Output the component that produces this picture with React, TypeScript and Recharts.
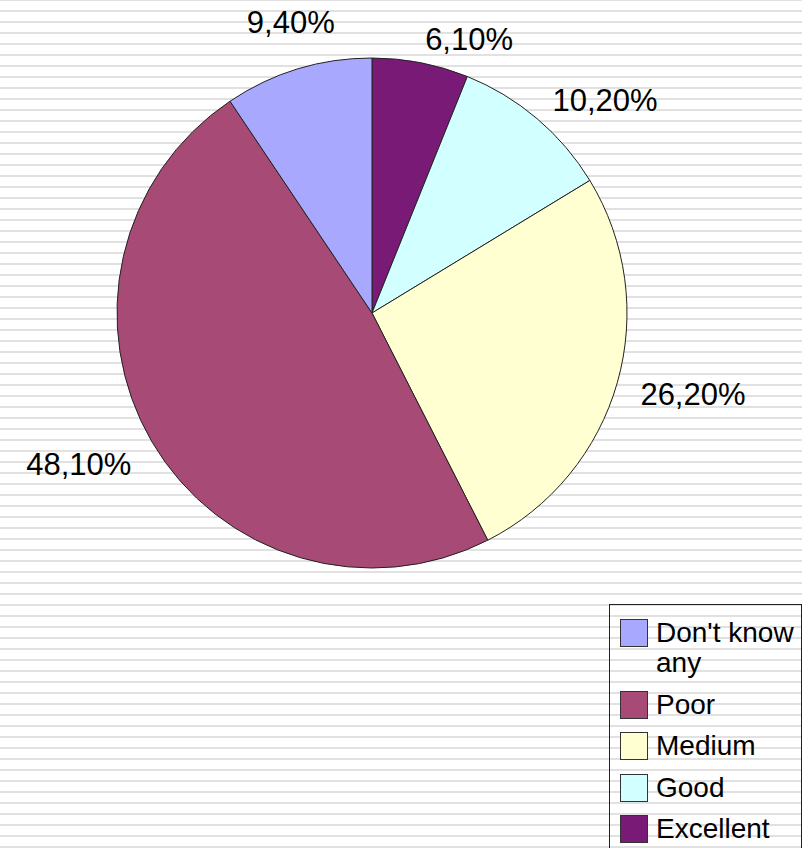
import { PieChart, Pie, Cell, Legend } from 'recharts'

// slices in drawing order, clockwise from 12 o'clock
const categories = ['Excellent', 'Good', 'Medium', 'Poor', "Don't know any"]
const shares = [6.1, 10.2, 26.2, 48.1, 9.4]
const colors = ['#7a1a77', '#d2ffff', '#ffffd2', '#a84a76', '#a8a8ff']

const data = categories.map((name, i) => ({ name, value: shares[i] }))

const FONT = '"Liberation Sans", Arial, sans-serif'
const RAD = Math.PI / 180

function fmt(v: number) {
  return v.toFixed(2).replace('.', ',') + '%'
}

function renderLabel(props: any) {
  const { cx, cy, midAngle, outerRadius, value } = props
  const cos = Math.cos(-midAngle * RAD)
  const sin = Math.sin(-midAngle * RAD)
  const r = outerRadius + 24
  const x = cx + r * cos
  let y = cy + r * sin
  let anchor: 'start' | 'end' | 'middle' = 'middle'
  let baseline: 'central' | 'auto' = 'central'
  if (cos > 0.1) anchor = 'start'
  else if (cos < -0.5) anchor = 'end'
  else {
    baseline = 'auto'
    y -= 13
  }
  if (baseline === 'central') y += Math.max(0, sin) * 20
  return (
    <text x={x} y={y} textAnchor={anchor} dominantBaseline={baseline}
      fill="#000" fontSize={31} fontFamily={FONT}>
      {fmt(value)}
    </text>
  )
}

function LegendBox() {
  const order = categories.map((_, i) => i).reverse()
  return (
    <div style={{
      border: '1px solid #222', borderBottom: 'none', boxSizing: 'border-box',
      width: 193, height: 244, padding: '13px 0 0 10px', fontFamily: FONT, fontSize: 28,
      lineHeight: '30px', color: '#000'
    }}>
      {order.map(i => (
        <div key={i} style={{ display: 'flex', alignItems: 'flex-start', marginBottom: 11.5 }}>
          <div style={{
            width: 28, height: 28, marginTop: 1, boxSizing: 'border-box',
            background: colors[i], border: '1px solid #333', flexShrink: 0
          }} />
          <div style={{ marginLeft: 8, width: 140 }}>{categories[i]}</div>
        </div>
      ))}
    </div>
  )
}

export default function App() {
  return (
    <div style={{
      position: 'absolute', left: 0, top: 0, width: 802, height: 848, overflow: 'hidden',
      backgroundColor: '#fff',
      backgroundImage: 'repeating-linear-gradient(to bottom, #e1e1e1 0px, #e1e1e1 2px, #fff 2px, #fff 11px)',
      backgroundPosition: '0 -1px'
    }}>
      <PieChart width={802} height={848} margin={{ top: 0, right: 0, bottom: 0, left: 0 }}>
        <Pie
          data={data}
          dataKey="value"
          nameKey="name"
          cx={372}
          cy={313}
          outerRadius={255}
          startAngle={90}
          endAngle={-270}
          stroke="#222"
          strokeWidth={1}
          label={renderLabel}
          labelLine={false}
          isAnimationActive={false}
        >
          {data.map((d, i) => <Cell key={d.name} fill={colors[i]} />)}
        </Pie>
        <Legend
          layout="vertical"
          align="right"
          verticalAlign="bottom"
          content={() => <LegendBox />}
          wrapperStyle={{ left: 609, top: 604, width: 193, height: 244, bottom: 'auto', right: 'auto' }}
        />
      </PieChart>
    </div>
  )
}
